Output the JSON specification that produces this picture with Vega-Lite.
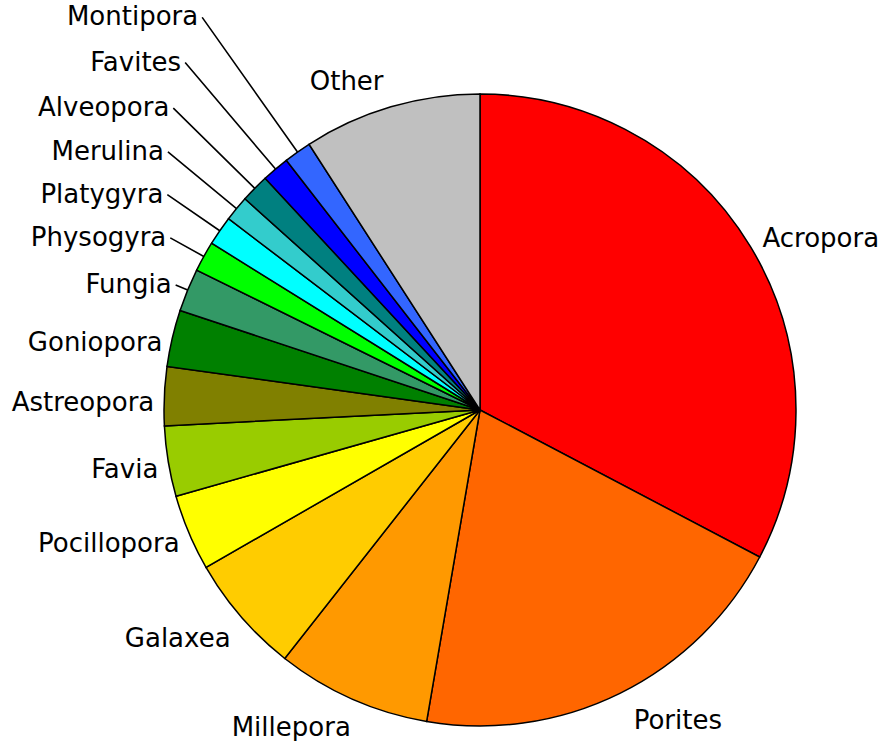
{
  "$schema": "https://vega.github.io/schema/vega-lite/v6.json",
  "width": 808,
  "height": 662,
  "autosize": {"type": "none"},
  "padding": {"left": 76, "top": 79, "right": 0, "bottom": 0},
  "background": "white",
  "config": {"view": {"stroke": null}},
  "data": {
    "values": [
      {"genus": "Acropora", "pct": 32.7, "order": 1},
      {"genus": "Porites", "pct": 20.0, "order": 2},
      {"genus": "Millepora", "pct": 7.9, "order": 3},
      {"genus": "Galaxea", "pct": 6.1, "order": 4},
      {"genus": "Pocillopora", "pct": 3.9, "order": 5},
      {"genus": "Favia", "pct": 3.6, "order": 6},
      {"genus": "Astreopora", "pct": 3.0, "order": 7},
      {"genus": "Goniopora", "pct": 2.9, "order": 8},
      {"genus": "Fungia", "pct": 2.2, "order": 9},
      {"genus": "Physogyra", "pct": 1.55, "order": 10},
      {"genus": "Platygyra", "pct": 1.5, "order": 11},
      {"genus": "Merulina", "pct": 1.3, "order": 12},
      {"genus": "Alveopora", "pct": 1.45, "order": 13},
      {"genus": "Favites", "pct": 1.4, "order": 14},
      {"genus": "Montipora", "pct": 1.4, "order": 15},
      {"genus": "Other", "pct": 9.1, "order": 16}
    ]
  },
  "transform": [
    {"window": [{"op": "sum", "field": "pct", "as": "cum"}], "sort": [{"field": "order"}], "frame": [null, 0]},
    {"window": [{"op": "mean", "field": "cum", "as": "mid"}], "sort": [{"field": "order"}], "frame": [-1, 0]}
  ],
  "layer": [
    {
      "mark": {"type": "arc", "outerRadius": 316, "stroke": "black", "strokeWidth": 1.5},
      "encoding": {
        "theta": {"field": "pct", "type": "quantitative", "stack": true},
        "order": {"field": "order", "type": "quantitative"},
        "color": {
          "field": "genus",
          "type": "nominal",
          "legend": null,
          "scale": {
            "domain": ["Acropora", "Porites", "Millepora", "Galaxea", "Pocillopora", "Favia", "Astreopora", "Goniopora", "Fungia", "Physogyra", "Platygyra", "Merulina", "Alveopora", "Favites", "Montipora", "Other"],
            "range": ["#FF0000", "#FF6600", "#FF9900", "#FFCC00", "#FFFF00", "#99CC00", "#808000", "#008000", "#339966", "#00FF00", "#00FFFF", "#33CCCC", "#008080", "#0000FF", "#3366FF", "#C0C0C0"]
          }
        }
      }
    },
    {
      "transform": [{"filter": {"field": "order", "range": [9, 15]}}],
      "mark": {"type": "arc", "innerRadius": 316, "filled": false, "stroke": "black", "strokeWidth": 1.6},
      "encoding": {
        "theta": {"field": "mid", "type": "quantitative", "stack": null},
        "theta2": {"field": "mid"},
        "radius": {"field": "order", "type": "quantitative", "scale": {"type": "linear", "zero": false, "domain": [9, 15], "range": [329, 481]}}
      }
    },
    {
      "transform": [{"filter": {"field": "order", "range": [9, 15]}}],
      "mark": {"type": "text", "align": "right", "baseline": "middle", "dx": -4, "font": "DejaVu Sans", "fontSize": 26, "fill": "black"},
      "encoding": {
        "theta": {"field": "mid", "type": "quantitative", "stack": null},
        "radius": {"field": "order", "type": "quantitative", "scale": {"type": "linear", "zero": false, "domain": [9, 15], "range": [329, 481]}},
        "text": {"field": "genus", "type": "nominal"}
      }
    },
    {
      "mark": {"type": "text", "radius": 330, "align": "left", "baseline": "middle", "font": "DejaVu Sans", "fontSize": 26, "fill": "black"},
      "encoding": {
        "theta": {"field": "pct", "type": "quantitative", "stack": true},
        "order": {"field": "order", "type": "quantitative"},
        "text": {"condition": {"test": "datum.genus === 'Acropora'", "field": "genus", "type": "nominal"}, "value": ""}
      }
    },
    {
      "mark": {"type": "text", "radius": 347, "align": "left", "baseline": "middle", "font": "DejaVu Sans", "fontSize": 26, "fill": "black"},
      "encoding": {
        "theta": {"field": "pct", "type": "quantitative", "stack": true},
        "order": {"field": "order", "type": "quantitative"},
        "text": {"condition": {"test": "datum.genus === 'Porites'", "field": "genus", "type": "nominal"}, "value": ""}
      }
    },
    {
      "mark": {"type": "text", "radius": 343, "align": "right", "baseline": "middle", "dx": 10, "dy": 5, "font": "DejaVu Sans", "fontSize": 26, "fill": "black"},
      "encoding": {
        "theta": {"field": "pct", "type": "quantitative", "stack": true},
        "order": {"field": "order", "type": "quantitative"},
        "text": {"condition": {"test": "datum.genus === 'Millepora' || datum.genus === 'Galaxea'", "field": "genus", "type": "nominal"}, "value": ""}
      }
    },
    {
      "mark": {"type": "text", "radius": 326, "align": "right", "baseline": "middle", "dy": 7, "font": "DejaVu Sans", "fontSize": 26, "fill": "black"},
      "encoding": {
        "theta": {"field": "pct", "type": "quantitative", "stack": true},
        "order": {"field": "order", "type": "quantitative"},
        "text": {"condition": {"test": "indexof(['Pocillopora','Favia','Astreopora','Goniopora'], datum.genus) >= 0", "field": "genus", "type": "nominal"}, "value": ""}
      }
    },
    {
      "mark": {"type": "text", "radius": 342, "align": "right", "baseline": "middle", "font": "DejaVu Sans", "fontSize": 26, "fill": "black"},
      "encoding": {
        "theta": {"field": "pct", "type": "quantitative", "stack": true},
        "order": {"field": "order", "type": "quantitative"},
        "text": {"condition": {"test": "datum.genus === 'Other'", "field": "genus", "type": "nominal"}, "value": ""}
      }
    }
  ]
}
